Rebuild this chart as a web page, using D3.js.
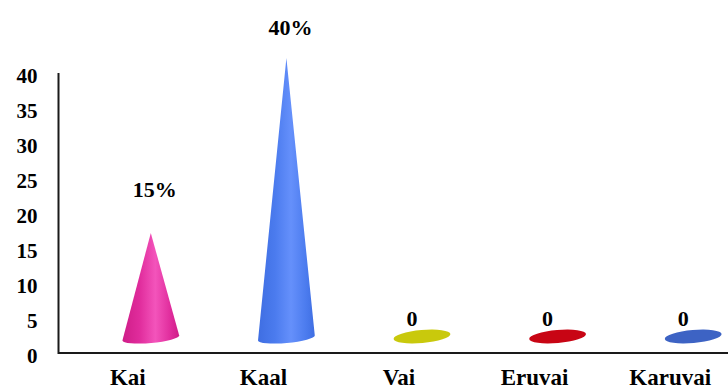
<!DOCTYPE html>
<html>
<head>
<meta charset="utf-8">
<script src="https://cdn.jsdelivr.net/npm/d3@7"></script>
<style>
  html, body { margin: 0; padding: 0; background: #fff; }
  svg { display: block; }
  text { font-family: "Liberation Serif", "Times New Roman", serif; font-weight: bold; fill: #000; }
</style>
</head>
<body>
<svg id="chart" width="728" height="392"></svg>
<script>
// Chart data
const categories = ["Kai", "Kaal", "Vai", "Eruvai", "Karuvai"];
const values = [15, 40, 0, 0, 0];
const valueLabels = ["15%", "40%", "0", "0", "0"];
const yTicks = [0, 5, 10, 15, 20, 25, 30, 35, 40];

// Colours per category: [edge shade, base, highlight]
const palette = [
  ["#cf1d88", "#e02c9c", "#f354bb"],
  ["#3f6ee2", "#4b7bee", "#6590fb"],
  ["#b8b800", "#c9c90c", "#d8d830"],
  ["#b00010", "#c80514", "#d82030"],
  ["#2f55b8", "#3d63c4", "#5a80d8"]
];

const W = 728, H = 392;
const svg = d3.select("#chart");

const x = d3.scaleBand().domain(categories).range([60, 738]).padding(0);
const y = d3.scaleLinear().domain([0, 40]).range([353, 73]);

// 3-D depth shift of the floor relative to the front axes
const depthX = 23, depthY = -15;
const floorY = y(0) + depthY;
const coneR = 28.5, baseRy = 5, tilt = 5;

// Gradients for the shaded cones
const defs = svg.append("defs");
palette.forEach((c, i) => {
  const g = defs.append("linearGradient")
    .attr("id", "shade" + i)
    .attr("x1", "0%").attr("x2", "100%").attr("y1", "0%").attr("y2", "0%");
  g.append("stop").attr("offset", "0%").attr("stop-color", c[0]);
  g.append("stop").attr("offset", "30%").attr("stop-color", c[1]);
  g.append("stop").attr("offset", "58%").attr("stop-color", c[2]);
  g.append("stop").attr("offset", "85%").attr("stop-color", c[1]);
  g.append("stop").attr("offset", "100%").attr("stop-color", c[0]);
});

// Y axis tick labels
const yAxis = d3.axisLeft(y).tickValues(yTicks).tickSize(0).tickPadding(21);
const gy = svg.append("g").attr("transform", "translate(58.5,0)").call(yAxis);
gy.select(".domain").remove();
gy.selectAll("text")
  .attr("dy", "0.47em")
  .style("font-size", "21px")
  .style("font-family", "'Liberation Serif', 'Times New Roman', serif")
  .style("font-weight", "bold")
  .attr("fill", "#000");

// Category labels along the bottom
const xAxis = d3.axisBottom(x).tickSize(0).tickPadding(0);
const gx = svg.append("g").attr("transform", "translate(0,353)").call(xAxis);
gx.select(".domain").remove();
gx.selectAll("text")
  .attr("y", 32)
  .attr("dy", 0)
  .style("font-size", "23px")
  .style("font-family", "'Liberation Serif', 'Times New Roman', serif")
  .style("font-weight", "bold")
  .attr("fill", "#000");

// Axis lines
svg.append("path")
  .attr("d", `M58.5,${y(40)}V${y(0)}H${W}`)
  .attr("fill", "none")
  .attr("stroke", "#1a1a1a")
  .attr("stroke-width", 2);

// Cones (or flat discs for zero values)
const rad = tilt * Math.PI / 180;
const marks = svg.append("g");
categories.forEach((cat, i) => {
  const v = values[i];
  const cx = x(cat) + x.bandwidth() / 2 + depthX;
  if (v > 0) {
    const apexY = y(v) + depthY;
    const lx = cx - coneR * Math.cos(rad), ly = floorY + coneR * Math.sin(rad);
    const rx = cx + coneR * Math.cos(rad), ry = floorY - coneR * Math.sin(rad);
    marks.append("path")
      .attr("d", `M${lx},${ly}L${cx},${apexY}L${rx},${ry}A${coneR},${baseRy} ${-tilt} 0 1 ${lx},${ly}Z`)
      .attr("fill", `url(#shade${i})`);
  } else {
    marks.append("ellipse")
      .attr("cx", cx).attr("cy", floorY - 1.5)
      .attr("rx", coneR).attr("ry", 6.5)
      .attr("transform", `rotate(${-tilt},${cx},${floorY - 1.5})`)
      .attr("fill", palette[i][1]);
  }
});

// Value labels
categories.forEach((cat, i) => {
  const v = values[i];
  const cx = x(cat) + x.bandwidth() / 2 + depthX;
  const apexY = y(v) + depthY;
  const ly = v > 0 ? Math.max(apexY - 36, 35) : floorY - 12;
  svg.append("text")
    .attr("x", v > 0 ? cx + 4 : cx - 10)
    .attr("y", ly)
    .attr("text-anchor", "middle")
    .style("font-size", "22px")
    .text(valueLabels[i]);
});
</script>
</body>
</html>
